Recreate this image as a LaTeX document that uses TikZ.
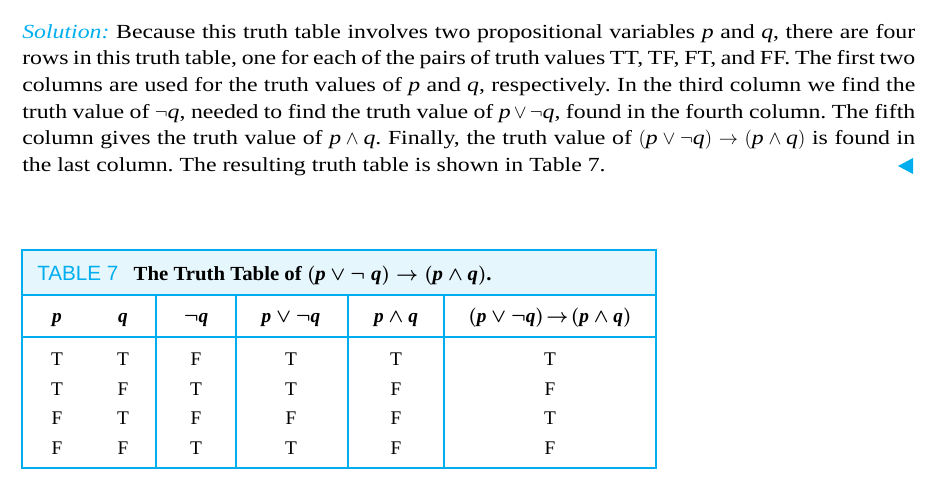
\documentclass[tikz,border=0pt]{standalone}
\usepackage{fontspec}
\setmainfont{Liberation Serif}
\newfontfamily\parafont{Liberation Serif}[FakeStretch=1.19]
\newfontfamily\capfont{Liberation Serif}[FakeStretch=1.04]
\newfontfamily\tabfont{Liberation Sans}
\usetikzlibrary{positioning}
\definecolor{tblue}{RGB}{0,174,239}
\definecolor{tfill}{RGB}{230,246,253}
\frenchspacing
\tikzset{
  para/.style={anchor=north west, inner sep=0pt, text width=669.75pt, align=justify, font=\parafont\fontsize{15}{20}\selectfont},
  cell/.style={anchor=base, inner sep=0pt, font=\fontsize{14.5}{17}\selectfont},
  head/.style={anchor=base, inner sep=0pt, font=\fontsize{14.5}{17}\selectfont\bfseries\boldmath},
  caption/.style={anchor=base west, inner sep=0pt, font=\capfont\fontsize{15}{18}\selectfont\bfseries\boldmath},
  rule/.style={draw=tblue, line width=1.5pt}
  }

\begin{document}
\begin{tikzpicture}[x=0.75pt, y=-0.75pt]
	\useasboundingbox (0,0) rectangle (929,485);

	% Text
	\node[para] (solution) at (22,19.3) {\strut{\color{tblue}\textit{Solution:}} Because this truth table involves two propositional variables \textit{p} and \textit{q}, there are four\linebreak
	rows in this truth table, one for each of the pairs of truth values TT, TF, FT, and FF. The first two\linebreak
	columns are used for the truth values of \textit{p} and \textit{q}, respectively. In the third column we find the\linebreak
	truth value of $\neg$\textit{q}, needed to find the truth value of $\textit{p}\vee\neg\textit{q}$, found in the fourth column. The fifth\linebreak
	column gives the truth value of $\textit{p}\wedge\textit{q}$. Finally, the truth value of $(\textit{p}\vee\neg\textit{q})\rightarrow(\textit{p}\wedge\textit{q})$ is found in\linebreak
	the last column. The resulting truth table is shown in Table 7.};
	\fill[tblue] (913,158) -- (913,174) -- (898,166) -- cycle;

	% Frame
	\fill[tfill] (22,250) rectangle (656,295);
	\draw[rule] (22,250) rectangle (656,468);
	\draw[rule] (22,295) -- (656,295);
	\draw[rule] (22,337) -- (656,337);
	\draw[rule] (156,295) -- (156,468);
	\draw[rule] (236,295) -- (236,468);
	\draw[rule] (348,295) -- (348,468);
	\draw[rule] (444,295) -- (444,468);

	% Title
	\node[anchor=base west, inner sep=0pt, text=tblue, font=\tabfont\fontsize{15.5}{18}\selectfont] (tabno) at (37,280) {TABLE 7};
	\node[caption, base right=11pt of tabno] (title) {The Truth Table of $(\textit{p}\vee\neg\;\textit{q})\rightarrow(\textit{p}\wedge\textit{q})$.};

	% Header
	\node[head] (hp) at (57,322) {\textit{p}};
	\node[head] (hq) at (123,322) {\textit{q}};
	\node[head] (hnq) at (196,322) {$\neg\textit{q}$};
	\node[head] (hor) at (291,322) {$\textit{p}\vee\neg\textit{q}$};
	\node[head] (hand) at (396,322) {$\textit{p}\wedge\textit{q}$};
	\node[head] (himp) at (550,322) {$\thickmuskip=2mu (\textit{p}\vee\neg\textit{q})\rightarrow(\textit{p}\wedge\textit{q})$};

	% Rows
	\node[cell] (p1) at (57,365) {T};
	\node[cell] (q1) at (123,365) {T};
	\node[cell] (nq1) at (196,365) {F};
	\node[cell] (or1) at (291,365) {T};
	\node[cell] (and1) at (396,365) {T};
	\node[cell] (imp1) at (550,365) {T};

	\node[cell] (p2) at (57,395) {T};
	\node[cell] (q2) at (123,395) {F};
	\node[cell] (nq2) at (196,395) {T};
	\node[cell] (or2) at (291,395) {T};
	\node[cell] (and2) at (396,395) {F};
	\node[cell] (imp2) at (550,395) {F};

	\node[cell] (p3) at (57,424) {F};
	\node[cell] (q3) at (123,424) {T};
	\node[cell] (nq3) at (196,424) {F};
	\node[cell] (or3) at (291,424) {F};
	\node[cell] (and3) at (396,424) {F};
	\node[cell] (imp3) at (550,424) {T};

	\node[cell] (p4) at (57,454) {F};
	\node[cell] (q4) at (123,454) {F};
	\node[cell] (nq4) at (196,454) {T};
	\node[cell] (or4) at (291,454) {T};
	\node[cell] (and4) at (396,454) {F};
	\node[cell] (imp4) at (550,454) {F};
\end{tikzpicture}
\end{document}
